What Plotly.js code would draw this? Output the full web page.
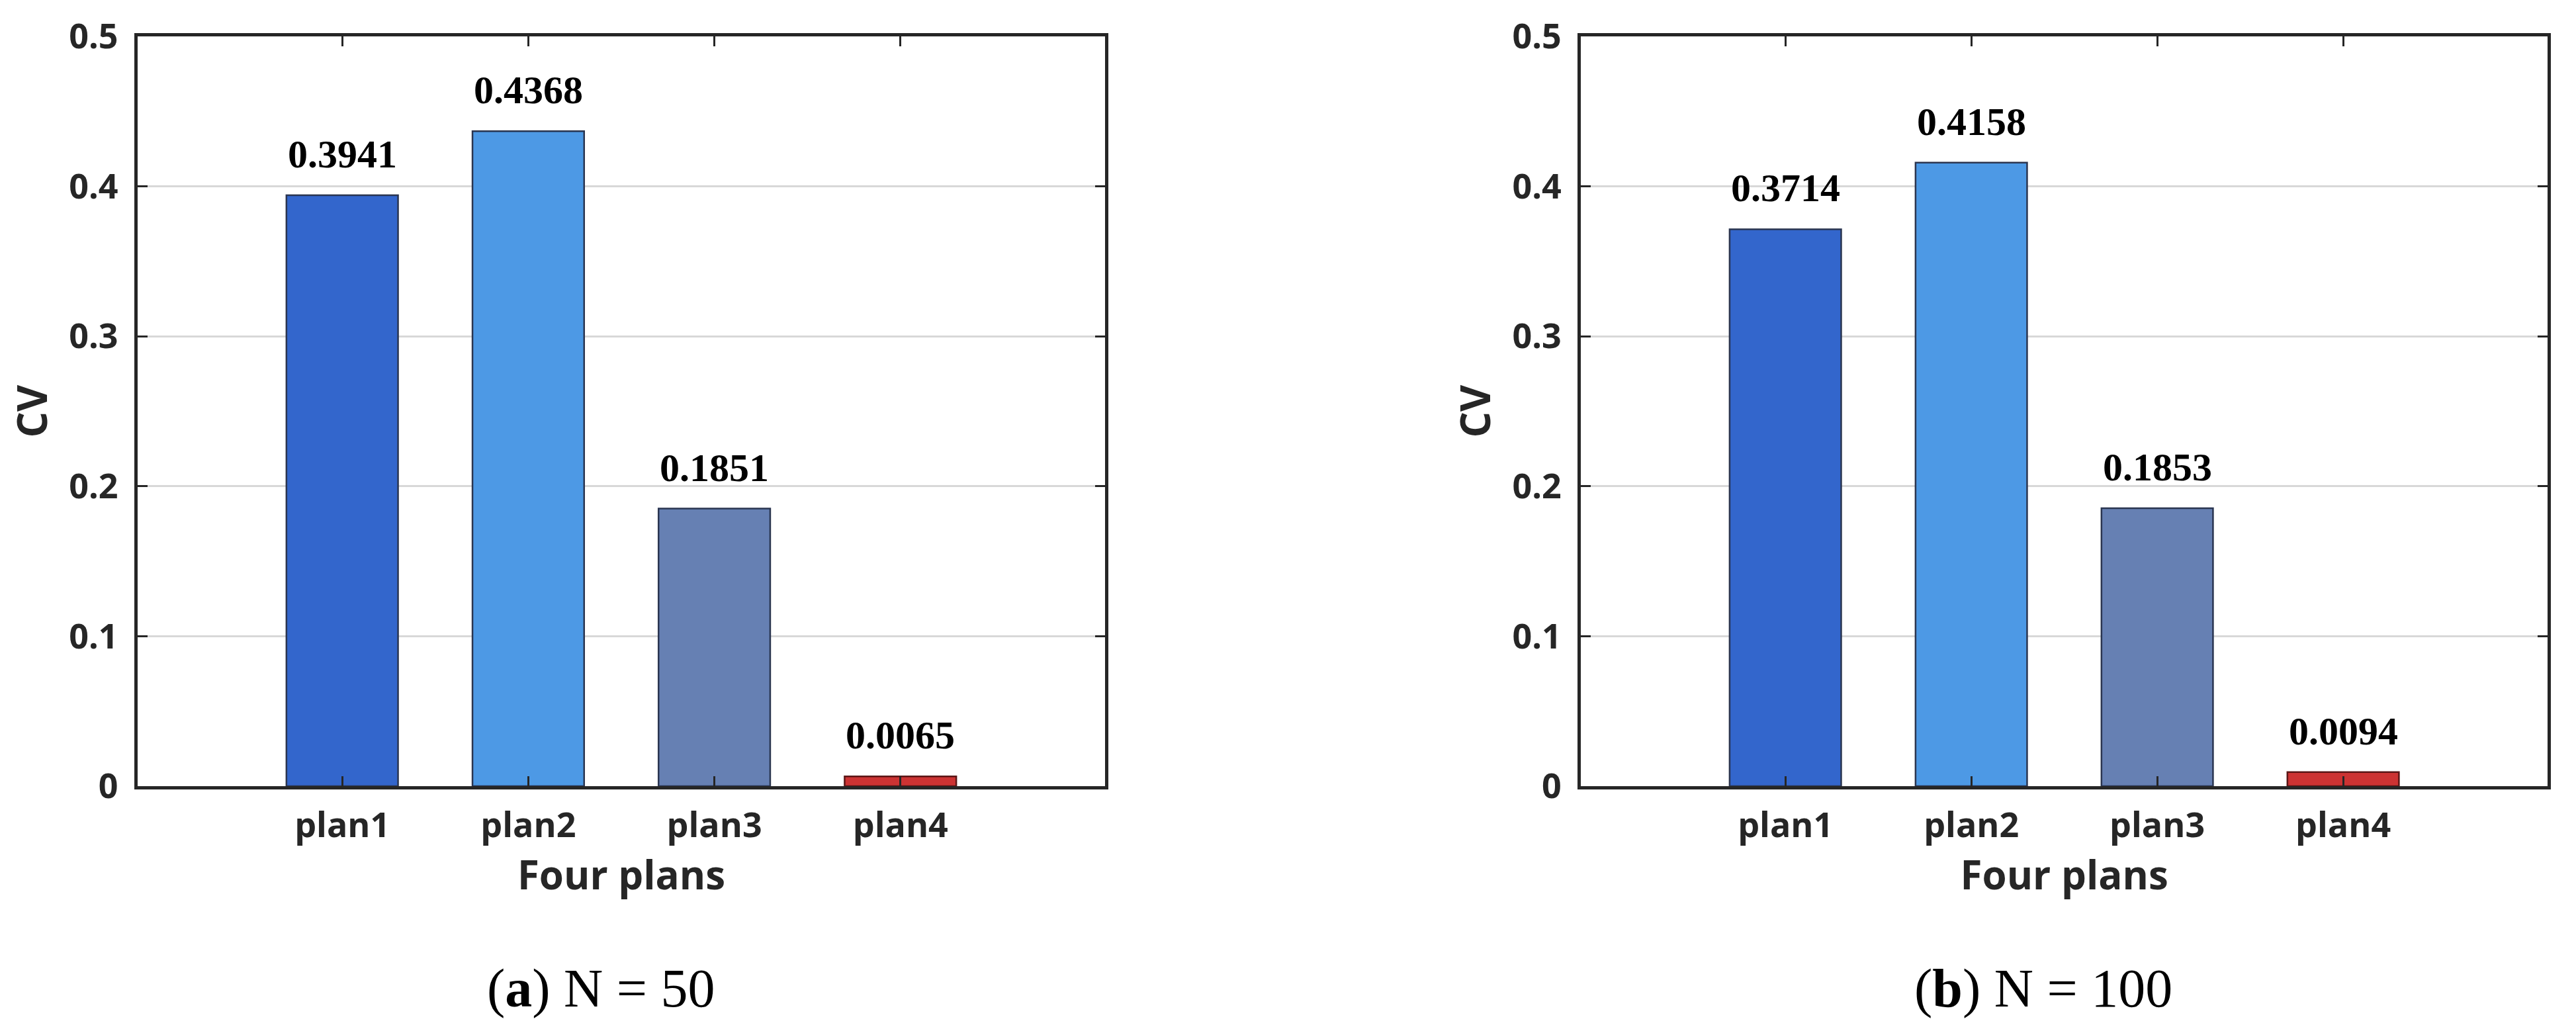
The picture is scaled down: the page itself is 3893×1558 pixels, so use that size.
<!DOCTYPE html>
<html>
<head>
<meta charset="utf-8">
<script src="https://cdn.plot.ly/plotly-3.0.1.min.js"></script>
<style>html,body{margin:0;padding:0;background:#fff;}#chart{width:3893px;height:1558px;}</style>
</head>
<body>
<div id="chart"></div>
<script>
// ---- data ----
const plans = ['plan1', 'plan2', 'plan3', 'plan4'];
const cvN50 = [0.3941, 0.4368, 0.1851, 0.0065];
const cvN100 = [0.3714, 0.4158, 0.1853, 0.0094];
const yTickVals = [0, 0.1, 0.2, 0.3, 0.4, 0.5];
const yTickText = ['0', '0.1', '0.2', '0.3', '0.4', '0.5'];
const xTitle = 'Four plans';
const yTitle = 'CV';
const captions = ['(<b>a</b>) N = 50', '(<b>b</b>) N = 100'];

// ---- styles ----
const barColors = ['#3366CC', '#4D99E5', '#6680B3', '#CC3333'];
const barEdges = ['#2a3550', '#2a3550', '#2a3550', '#5a1616'];
const axisColor = '#262626';
const sansFont = '"Open Sans", "Noto Sans", sans-serif';
const serifFont = '"Liberation Serif", "Times New Roman", serif';

function barTrace(vals, xa, ya) {
  return {
    type: 'bar', x: plans, y: vals, xaxis: xa, yaxis: ya, width: 0.6,
    marker: { color: barColors, line: { color: barEdges, width: 2.5 } },
    hoverinfo: 'x+y'
  };
}

function xAxis(domain, anchor) {
  return {
    domain: domain, anchor: anchor, type: 'category', range: [-1.1, 4.1],
    showline: true, linecolor: axisColor, linewidth: 5, mirror: 'ticks',
    ticks: 'inside', ticklen: 15, tickwidth: 3, tickcolor: axisColor,
    tickfont: { family: sansFont, size: 52, weight: 700, color: axisColor },
    ticklabelstandoff: 10,
    showgrid: false, zeroline: false,
    title: { text: xTitle, font: { family: sansFont, size: 60, weight: 700, color: axisColor }, standoff: 18 }
  };
}

function yAxis(domain, anchor) {
  return {
    domain: domain, anchor: anchor, range: [0, 0.5],
    tickmode: 'array', tickvals: yTickVals, ticktext: yTickText,
    showline: true, linecolor: axisColor, linewidth: 5, mirror: 'ticks',
    ticks: 'inside', ticklen: 15, tickwidth: 3, tickcolor: axisColor,
    tickfont: { family: sansFont, size: 52, weight: 700, color: axisColor },
    ticklabelstandoff: 14,
    showgrid: true, gridcolor: '#d8d8d8', gridwidth: 3, zeroline: false,
    title: { text: yTitle, font: { family: sansFont, size: 62, weight: 700, color: axisColor }, standoff: 14 }
  };
}

function valueLabels(vals, xa, ya) {
  return vals.map((v, i) => ({
    x: plans[i], y: v, xref: xa, yref: ya, xanchor: 'center', yanchor: 'bottom',
    yshift: 27, showarrow: false, text: '<b>' + v.toFixed(4) + '</b>',
    font: { family: serifFont, size: 60, color: '#000' }
  }));
}

const yDomain = [0.2375, 0.9647];
const layout = {
  width: 3893, height: 1558,
  margin: { l: 0, r: 0, t: 0, b: 0 },
  paper_bgcolor: '#ffffff', plot_bgcolor: '#ffffff',
  showlegend: false,
  xaxis: xAxis([0.0534, 0.4290], 'y'),
  yaxis: yAxis(yDomain, 'x'),
  xaxis2: xAxis([0.6137, 0.9890], 'y2'),
  yaxis2: yAxis(yDomain, 'x2'),
  annotations: [].concat(
    valueLabels(cvN50, 'x', 'y'),
    valueLabels(cvN100, 'x2', 'y2'),
    [
      { text: captions[0], x: 908 / 3893, y: 1 - 1493 / 1558, xref: 'paper', yref: 'paper',
        xanchor: 'center', yanchor: 'middle', showarrow: false,
        font: { family: serifFont, size: 82, color: '#000' } },
      { text: captions[1], x: 3088 / 3893, y: 1 - 1493 / 1558, xref: 'paper', yref: 'paper',
        xanchor: 'center', yanchor: 'middle', showarrow: false,
        font: { family: serifFont, size: 82, color: '#000' } }
    ]
  )
};

Plotly.newPlot('chart', [barTrace(cvN50, 'x', 'y'), barTrace(cvN100, 'x2', 'y2')], layout,
  { staticPlot: true, displayModeBar: false });
</script>
</body>
</html>
